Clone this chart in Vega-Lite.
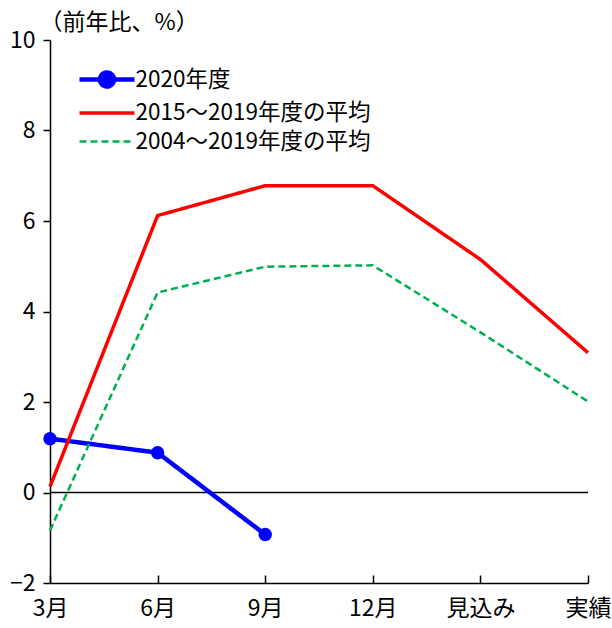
{
  "$schema": "https://vega.github.io/schema/vega-lite/v6.json",
  "autosize": {"type": "none"},
  "width": 538,
  "height": 543,
  "padding": {"left": 50, "top": 40, "right": 24, "bottom": 45},
  "background": "white",
  "config": {
    "view": {"stroke": null},
    "font": "Noto Sans CJK JP",
    "axis": {"labelFont": "Noto Sans CJK JP", "titleFont": "Noto Sans CJK JP", "labelColor": "#000", "titleColor": "#000", "domainColor": "#000", "tickColor": "#000", "grid": false}
  },
  "data": {
    "values": [
      {"series": "2020年度", "month": "3月", "value": 1.19},
      {"series": "2020年度", "month": "6月", "value": 0.88},
      {"series": "2020年度", "month": "9月", "value": -0.93},
      {"series": "2015～2019年度の平均", "month": "3月", "value": 0.13},
      {"series": "2015～2019年度の平均", "month": "6月", "value": 6.12},
      {"series": "2015～2019年度の平均", "month": "9月", "value": 6.78},
      {"series": "2015～2019年度の平均", "month": "12月", "value": 6.78},
      {"series": "2015～2019年度の平均", "month": "見込み", "value": 5.15},
      {"series": "2015～2019年度の平均", "month": "実績", "value": 3.09},
      {"series": "2004～2019年度の平均", "month": "3月", "value": -0.84},
      {"series": "2004～2019年度の平均", "month": "6月", "value": 4.42},
      {"series": "2004～2019年度の平均", "month": "9月", "value": 4.99},
      {"series": "2004～2019年度の平均", "month": "12月", "value": 5.02},
      {"series": "2004～2019年度の平均", "month": "見込み", "value": 3.54},
      {"series": "2004～2019年度の平均", "month": "実績", "value": 2.01}
    ]
  },
  "layer": [
    {
      "data": {"values": [{"z": 0}]},
      "mark": {"type": "rule", "color": "#000", "strokeWidth": 1.5},
      "encoding": {"y": {"field": "z", "type": "quantitative", "scale": {"domain": [-2, 10]}}}
    },
    {
      "mark": {"type": "line"},
      "encoding": {
        "x": {
          "field": "month", "type": "ordinal", "sort": ["3月", "6月", "9月", "12月", "見込み", "実績"],
          "scale": {"type": "point", "padding": 0},
          "axis": {"title": null, "labelAngle": 0, "labelFontSize": 23, "tickSize": -8, "labelPadding": 22, "domainWidth": 1.5, "tickWidth": 1.5}
        },
        "y": {
          "field": "value", "type": "quantitative",
          "scale": {"domain": [-2, 10], "nice": false},
          "axis": {"values": [-2, 0, 2, 4, 6, 8, 10], "labelFontSize": 23, "tickSize": 7, "labelPadding": 8, "domainWidth": 1.5, "tickWidth": 1.5,
            "title": "（前年比、%）", "titleAngle": 0, "titleAlign": "left", "titleBaseline": "middle", "titleX": -11, "titleY": -18, "titleFontSize": 23, "titleFontWeight": "normal"}
        },
        "color": {
          "field": "series", "type": "nominal",
          "scale": {"domain": ["2020年度", "2015～2019年度の平均", "2004～2019年度の平均"], "range": ["#0000ff", "#ff0000", "#00b050"]},
          "legend": {
            "title": null, "orient": "none", "legendX": 41.5, "legendY": 24, "padding": 0,
            "labelFontSize": 22.5, "labelFont": "Noto Sans CJK JP", "labelColor": "#000", "labelOffset": 13, "labelLimit": 0,
            "symbolSize": 676, "rowPadding": 2,
            "symbolType": "M-2.115,0H2.115",
            "encode": {
              "symbols": {
                "update": {
                  "shape": {"signal": "datum.value === '2020年度' ? 'M-2.115,0H2.115M0.538,0A0.538,0.538,0,1,1,-0.538,0A0.538,0.538,0,1,1,0.538,0Z' : 'M-2.115,0H2.115'"},
                  "fill": {"signal": "datum.value === '2020年度' ? '#0000ff' : 'transparent'"},
                  "strokeWidth": {"signal": "datum.value === '2020年度' ? 4.5 : 2.5"},
                  "strokeDash": {"signal": "datum.value === '2004～2019年度の平均' ? [7, 4] : []"}
                }
              }
            }
          }
        },
        "strokeDash": {
          "field": "series", "type": "nominal",
          "scale": {"domain": ["2020年度", "2015～2019年度の平均", "2004～2019年度の平均"], "range": [[1, 0], [1, 0], [7, 4]]},
          "legend": null
        },
        "strokeWidth": {
          "field": "series", "type": "nominal",
          "scale": {"domain": ["2020年度", "2015～2019年度の平均", "2004～2019年度の平均"], "range": [4.5, 2.5, 2.5]},
          "legend": null
        }
      }
    },
    {
      "transform": [{"filter": "datum.series === '2020年度'"}],
      "mark": {"type": "point", "filled": true, "size": 180, "color": "#0000ff", "opacity": 1},
      "encoding": {
        "x": {"field": "month", "type": "ordinal", "sort": ["3月", "6月", "9月", "12月", "見込み", "実績"]},
        "y": {"field": "value", "type": "quantitative"}
      }
    }
  ]
}
